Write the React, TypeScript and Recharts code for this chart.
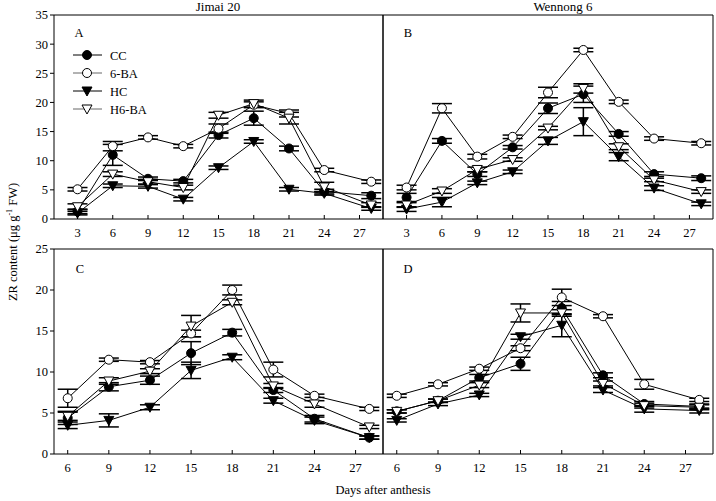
import React from "react";
import { LineChart, Line, XAxis, YAxis, ErrorBar } from "recharts";

// days after anthesis
const daysTop = [3, 6, 9, 12, 15, 18, 21, 24, 28];
const daysBottom = [6, 9, 12, 15, 18, 21, 24, 28];
const xTicksTop = [3, 6, 9, 12, 15, 18, 21, 24, 27];
const xTicksBottom = [6, 9, 12, 15, 18, 21, 24, 27];
const yTicksTop = [0, 5, 10, 15, 20, 25, 30, 35];
const yTicksBottom = [0, 5, 10, 15, 20, 25];

const seriesNames = ["CC", "6-BA", "HC", "H6-BA"];

// A - Jimai 20 (upper)
const aCC = [1.3, 11.0, 6.9, 6.5, 14.4, 17.3, 12.1, 4.7, 4.0];
const aCCErr = [0.4, 1.8, 0.3, 0.3, 0.5, 1.2, 0.4, 0.4, 0.5];
const a6BA = [5.1, 12.5, 14.0, 12.5, 15.5, 19.6, 18.1, 8.4, 6.4];
const a6BAErr = [0.3, 0.8, 0.3, 0.3, 0.8, 0.5, 0.6, 0.3, 0.3];
const aHC = [1.0, 5.7, 5.6, 3.4, 8.8, 13.3, 5.1, 4.4, 1.8];
const aHCErr = [0.3, 0.3, 0.3, 0.3, 0.3, 0.3, 0.3, 0.3, 0.3];
const aH6BA = [2.1, 7.7, 6.4, 5.4, 17.8, 19.8, 17.3, 5.5, 2.4];
const aH6BAErr = [0.5, 0.4, 0.4, 0.4, 0.5, 0.6, 1.0, 0.8, 0.4];

// B - Wennong 6 (upper)
const bCC = [3.7, 13.4, 7.7, 12.3, 19.0, 21.4, 14.6, 7.7, 7.0];
const bCCErr = [0.7, 0.4, 0.4, 0.3, 0.9, 1.4, 0.4, 0.4, 0.4];
const b6BA = [5.4, 19.0, 10.7, 14.1, 21.7, 29.0, 20.1, 13.8, 13.0];
const b6BAErr = [0.4, 0.8, 0.4, 0.3, 0.9, 0.3, 0.3, 0.3, 0.3];
const bHC = [1.7, 2.9, 6.2, 8.1, 13.4, 16.7, 10.7, 5.3, 2.6];
const bHCErr = [0.4, 0.8, 0.3, 0.3, 0.6, 2.4, 0.7, 0.4, 0.3];
const bH6BA = [2.4, 4.8, 8.5, 10.2, 15.6, 22.4, 12.4, 6.7, 4.7];
const bH6BAErr = [0.4, 0.4, 0.4, 0.3, 0.3, 0.8, 0.5, 0.3, 0.3];

// C - Jimai 20 (lower)
const cCC = [4.4, 8.2, 9.0, 12.3, 14.8, 7.8, 4.3, 2.0];
const cCCErr = [0.8, 0.5, 0.5, 1.4, 0.4, 0.3, 0.4, 0.2];
const c6BA = [6.8, 11.5, 11.2, 14.7, 20.0, 10.3, 7.1, 5.5];
const c6BAErr = [1.1, 0.2, 0.2, 0.4, 0.6, 0.9, 0.2, 0.2];
const cHC = [3.5, 4.1, 5.7, 10.2, 11.8, 6.5, 4.1, 2.0];
const cHCErr = [0.4, 0.8, 0.3, 1.0, 0.3, 0.3, 0.4, 0.2];
const cH6BA = [4.6, 8.9, 10.1, 15.6, 18.5, 8.3, 6.1, 3.3];
const cH6BAErr = [0.5, 0.4, 0.3, 1.3, 0.3, 0.3, 0.4, 0.2];

// D - Wennong 6 (lower)
const dCC = [5.2, 6.5, 9.3, 11.0, 17.8, 9.6, 6.1, 5.8];
const dCCErr = [0.2, 0.2, 0.4, 0.8, 0.8, 0.3, 0.3, 0.3];
const d6BA = [7.1, 8.5, 10.4, 12.9, 19.1, 16.8, 8.5, 6.6];
const d6BAErr = [0.2, 0.2, 0.2, 0.3, 1.0, 0.2, 0.6, 0.2];
const dHC = [4.1, 6.1, 7.2, 14.3, 15.7, 7.8, 5.5, 5.3];
const dHCErr = [0.2, 0.2, 0.2, 0.3, 1.4, 0.3, 0.4, 0.3];
const dH6BA = [5.2, 6.5, 8.4, 17.2, 17.2, 8.6, 5.9, 5.7];
const dH6BAErr = [0.2, 0.2, 0.3, 1.1, 0.4, 0.3, 0.3, 0.3];

const FONT = "'Liberation Serif', 'Times New Roman', serif";

function buildRows(days, cc, ccE, ba, baE, hc, hcE, hba, hbaE) {
  return days.map((day, i) => ({
    day,
    cc: cc[i],
    ccErr: ccE[i],
    ba: ba[i],
    baErr: baE[i],
    hc: hc[i],
    hcErr: hcE[i],
    hba: hba[i],
    hbaErr: hbaE[i],
  }));
}

const dataA = buildRows(daysTop, aCC, aCCErr, a6BA, a6BAErr, aHC, aHCErr, aH6BA, aH6BAErr);
const dataB = buildRows(daysTop, bCC, bCCErr, b6BA, b6BAErr, bHC, bHCErr, bH6BA, bH6BAErr);
const dataC = buildRows(daysBottom, cCC, cCCErr, c6BA, c6BAErr, cHC, cHCErr, cH6BA, cH6BAErr);
const dataD = buildRows(daysBottom, dCC, dCCErr, d6BA, d6BAErr, dHC, dHCErr, dH6BA, dH6BAErr);

// marker shapes
function Marker({ cx, cy, kind }) {
  if (cx == null || cy == null) return null;
  const r = 4.5;
  if (kind === "circleFilled")
    return <circle cx={cx} cy={cy} r={r} fill="#000" stroke="#000" strokeWidth={1} />;
  if (kind === "circleOpen")
    return <circle cx={cx} cy={cy} r={r} fill="#fff" stroke="#000" strokeWidth={1} />;
  const pts = `${cx - 5},${cy - 4} ${cx + 5},${cy - 4} ${cx},${cy + 5}`;
  if (kind === "triFilled") return <polygon points={pts} fill="#000" stroke="#000" strokeWidth={1} />;
  return <polygon points={pts} fill="#fff" stroke="#000" strokeWidth={1} />;
}

const series = [
  { key: "cc", err: "ccErr", kind: "circleFilled" },
  { key: "ba", err: "baErr", kind: "circleOpen" },
  { key: "hc", err: "hcErr", kind: "triFilled" },
  { key: "hba", err: "hbaErr", kind: "triOpen" },
];

const tickStyle = { fill: "#000", fontSize: 12.5, fontFamily: FONT };

function Panel({ data, left, top, width, height, margin, xDomain, xTicks, yDomain, yTicks, showY }) {
  return (
    <div style={{ position: "absolute", left, top, width, height }}>
      <LineChart width={width} height={height} data={data} margin={margin}>
        <XAxis
          dataKey="day"
          type="number"
          domain={xDomain}
          ticks={xTicks}
          allowDataOverflow
          stroke="#000"
          tickSize={-4}
          tickMargin={13}
          tick={tickStyle}
          height={20}
        />
        <XAxis
          xAxisId="top"
          orientation="top"
          dataKey="day"
          type="number"
          domain={xDomain}
          height={1}
          tick={false}
          tickLine={false}
          stroke="#000"
        />
        <YAxis
          type="number"
          domain={yDomain}
          ticks={yTicks}
          stroke="#000"
          width={showY ? 54 : 1}
          tickSize={showY ? 4 : -4}
          tickMargin={2}
          tick={showY ? tickStyle : false}
        />
        <YAxis
          yAxisId="right"
          orientation="right"
          type="number"
          domain={yDomain}
          ticks={yTicks}
          stroke="#000"
          width={1}
          tickSize={-4}
          tick={false}
        />
        {series.map((s) => (
          <Line
            key={s.key}
            dataKey={s.key}
            stroke="#000"
            strokeWidth={1}
            isAnimationActive={false}
            dot={(p) => <Marker key={`${s.key}-${p.index}`} cx={p.cx} cy={p.cy} kind={s.kind} />}
            activeDot={false}
          >
            <ErrorBar dataKey={s.err} width={10} stroke="#000" strokeWidth={1.5} direction="y" />
          </Line>
        ))}
      </LineChart>
    </div>
  );
}

function Annotations() {
  const kinds = ["circleFilled", "circleOpen", "triFilled", "triOpen"];
  const rowY = [55, 73, 91, 109];
  return (
    <svg
      width={716}
      height={501}
      style={{ position: "absolute", left: 0, top: 0, pointerEvents: "none" }}
    >
      {seriesNames.map((name, i) => (
        <g key={name}>
          <line
            x1={73}
            x2={102}
            y1={rowY[i]}
            y2={rowY[i]}
            stroke={i % 2 === 1 ? "#666" : "#000"}
            strokeWidth={1}
          />
          <Marker cx={87} cy={rowY[i]} kind={kinds[i]} />
          <text x={110} y={rowY[i] + 4.5} fontSize={12.5} fontFamily={FONT} fill="#000">
            {name}
          </text>
        </g>
      ))}
      {/* titles and panel letters */}
      <text x={218} y={11} textAnchor="middle" fontSize={13} fontFamily={FONT}>Jimai 20</text>
      <text x={563} y={11} textAnchor="middle" fontSize={13} fontFamily={FONT}>Wennong 6</text>
      <text x={79} y={37} textAnchor="middle" fontSize={12.5} fontFamily={FONT}>A</text>
      <text x={408} y={37} textAnchor="middle" fontSize={12.5} fontFamily={FONT}>B</text>
      <text x={80} y={273} textAnchor="middle" fontSize={12.5} fontFamily={FONT}>C</text>
      <text x={408} y={273} textAnchor="middle" fontSize={12.5} fontFamily={FONT}>D</text>
      {/* axis labels */}
      <text x={383} y={494} textAnchor="middle" fontSize={12.5} fontFamily={FONT}>Days after anthesis</text>
      <text
        x={0}
        y={0}
        textAnchor="middle"
        fontSize={12.5}
        fontFamily={FONT}
        transform="translate(17,242) rotate(-90)"
      >
        ZR content (μg g
        <tspan dy={-5} fontSize={8}>-1</tspan>
        <tspan dy={5}> FW)</tspan>
      </text>
    </svg>
  );
}

export default function App() {
  return (
    <div
      style={{
        position: "absolute",
        left: 0,
        top: 0,
        width: 716,
        height: 501,
        background: "#fff",
        fontFamily: FONT,
      }}
    >
      <Panel
        data={dataA}
        left={0}
        top={0}
        width={384}
        height={239}
        margin={{ top: 14, right: 0, bottom: 0, left: 0 }}
        xDomain={[1, 29]}
        xTicks={xTicksTop}
        yDomain={[0, 35]}
        yTicks={yTicksTop}
        showY
      />
      <Panel
        data={dataB}
        left={382}
        top={0}
        width={334}
        height={239}
        margin={{ top: 14, right: 2, bottom: 0, left: 0 }}
        xDomain={[1, 29]}
        xTicks={xTicksTop}
        yDomain={[0, 35]}
        yTicks={yTicksTop}
        showY={false}
      />
      <Panel
        data={dataC}
        left={0}
        top={234}
        width={384}
        height={240}
        margin={{ top: 14, right: 0, bottom: 0, left: 0 }}
        xDomain={[5, 29]}
        xTicks={xTicksBottom}
        yDomain={[0, 25]}
        yTicks={yTicksBottom}
        showY
      />
      <Panel
        data={dataD}
        left={382}
        top={234}
        width={334}
        height={240}
        margin={{ top: 14, right: 2, bottom: 0, left: 0 }}
        xDomain={[5, 29]}
        xTicks={xTicksBottom}
        yDomain={[0, 25]}
        yTicks={yTicksBottom}
        showY={false}
      />
      <Annotations />
    </div>
  );
}
